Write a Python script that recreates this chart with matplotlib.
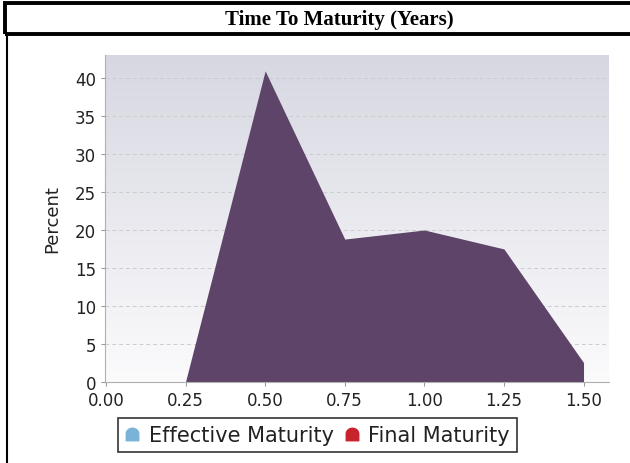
import numpy as np
import matplotlib
matplotlib.use("Agg")
import matplotlib.pyplot as plt
from matplotlib.path import Path
from matplotlib.lines import Line2D
from matplotlib.patches import Rectangle

# Data
years = [0.25, 0.50, 0.75, 1.00, 1.25, 1.50]
percent = [0.0, 41.0, 18.8, 20.0, 17.5, 2.5]
x_ticks = [0.00, 0.25, 0.50, 0.75, 1.00, 1.25, 1.50]
y_ticks = [0, 5, 10, 15, 20, 25, 30, 35, 40]
legend_labels = ["Effective Maturity", "Final Maturity"]
legend_colors = ["#7bb3d8", "#c8232c"]
title = "Time To Maturity (Years)"

W, H = 630, 464
fig = plt.figure(figsize=(W / 100, H / 100), dpi=100)

ax = fig.add_axes([105 / W, 1 - 382.5 / H, (609 - 105) / W, (382.5 - 56) / H])

# gradient background
grad = np.linspace(0, 1, 256).reshape(-1, 1)
top = np.array([0.843, 0.843, 0.886])
bot = np.array([0.985, 0.985, 0.99])
img = top[None, None, :] * (1 - grad[:, :, None]) + bot[None, None, :] * grad[:, :, None]
ax.imshow(img, extent=[0, 1, 0, 1], transform=ax.transAxes, aspect="auto", zorder=0)

ax.fill_between(years, percent, 0, color="#5e4468", lw=0, zorder=2)

ax.set_xlim(-0.003, 1.58)
ax.set_ylim(0, 43.1)
ax.set_xticks(x_ticks)
ax.set_xticklabels([f"{v:.2f}" for v in x_ticks])
ax.set_yticks(y_ticks)
ax.yaxis.grid(True, linestyle=(0, (4, 3)), color="#cccccc", lw=0.7, zorder=1)
ax.set_axisbelow(True)
for s in ["top", "right"]:
    ax.spines[s].set_visible(False)
for s in ["left", "bottom"]:
    ax.spines[s].set_color("#b0b0b0")
    ax.spines[s].set_linewidth(0.8)
ax.tick_params(axis="both", colors="#999999", length=3, width=0.8, labelsize=12, labelcolor="#222222")
ax.set_ylabel("Percent", fontsize=13, color="#222222", labelpad=10)

# dome marker
theta = np.linspace(0, np.pi, 20)
verts = [(np.cos(t), np.sin(t) * 0.9 + 0.1) for t in theta] + [(-1, -1), (1, -1), (1, 0.1)]
dome = Path(verts)
handles = [Line2D([], [], marker=dome, color=c, linestyle="None", markersize=9) for c in legend_colors]
leg = fig.legend(handles, legend_labels, loc="center", bbox_to_anchor=(317.5 / W, 1 - 436 / H),
                 ncol=2, frameon=True, fancybox=False, fontsize=15, handlelength=0.7,
                 handletextpad=0.45, columnspacing=0.5, borderpad=0.35, borderaxespad=0)
leg.get_frame().set_edgecolor("black")
leg.get_frame().set_linewidth(1.2)
for t in leg.get_texts():
    t.set_color("#222222")

# title box and border
fig.patches.append(Rectangle((5 / W, 1 - 35 / H), 700 / W, 31 / H, transform=fig.transFigure,
                             fill=False, edgecolor="black", lw=2.8, figure=fig))
fig.lines.append(Line2D([7 / W, 7 / W], [0, 1 - 35 / H], transform=fig.transFigure,
                        color="black", lw=1.5, figure=fig))
fig.text(339 / W, 1 - 19.5 / H, title, ha="center", va="center", fontsize=15,
         fontweight="bold", family="Liberation Serif")

fig.savefig("out.png", dpi=100)
